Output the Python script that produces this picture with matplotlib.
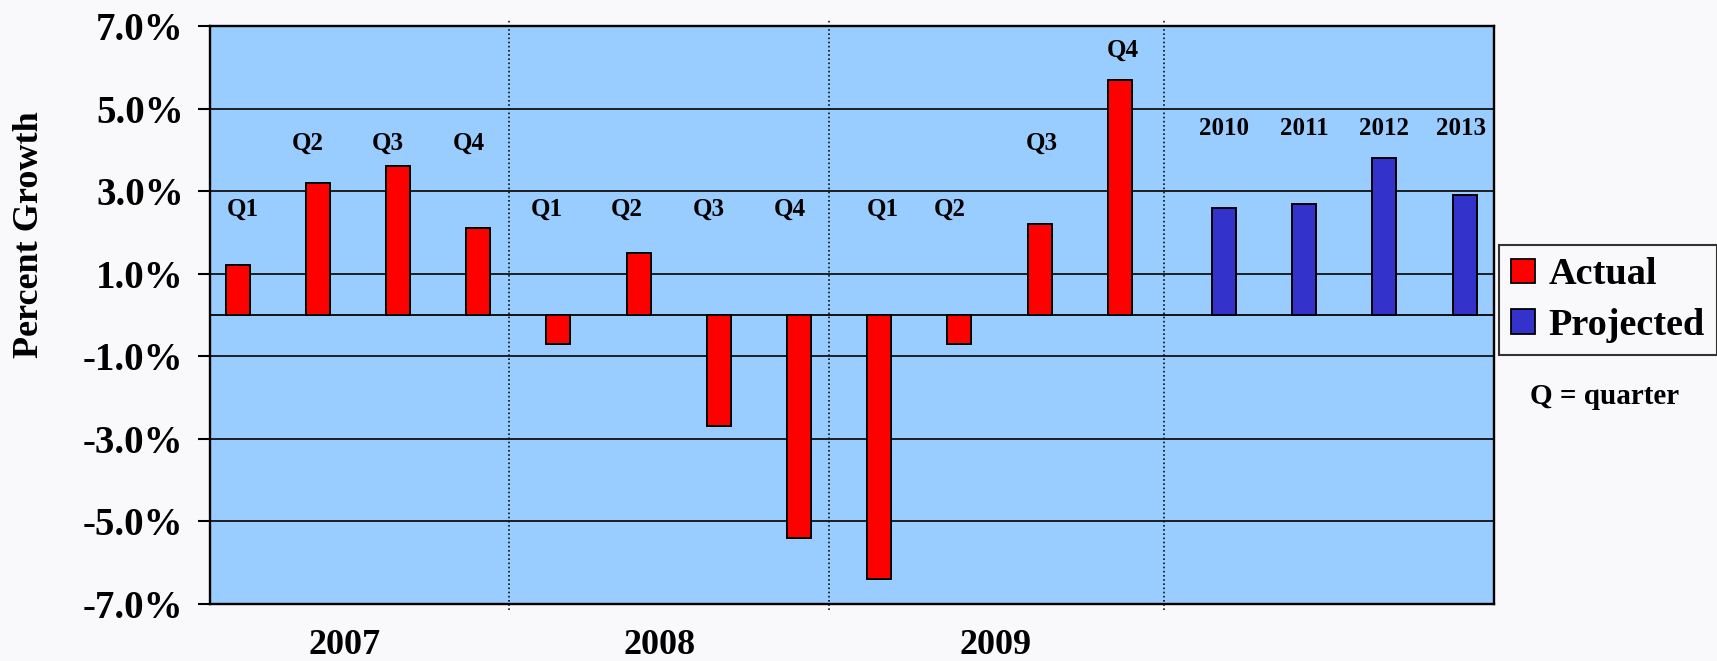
import numpy as np
import matplotlib
matplotlib.use("Agg")
import matplotlib.pyplot as plt
from matplotlib.patches import Patch

plt.rcParams["font.family"] = ["Liberation Serif", "DejaVu Serif"]
plt.rcParams["font.weight"] = "bold"

# quarterly growth (actual) and yearly projections
actual_labels = ["Q1", "Q2", "Q3", "Q4", "Q1", "Q2", "Q3", "Q4", "Q1", "Q2", "Q3", "Q4"]
actual_values = [1.2, 3.2, 3.6, 2.1, -0.7, 1.5, -2.7, -5.4, -6.4, -0.7, 2.2, 5.7]
projected_labels = ["2010", "2011", "2012", "2013"]
projected_values = [2.6, 2.7, 3.8, 2.9]
years = ["2007", "2008", "2009"]

y_ticks = [-7, -5, -3, -1, 1, 3, 5, 7]

# label placement (baseline height and small x nudges, as in the slide)
actual_label_y = [2.4, 4.0, 4.0, 4.0, 2.4, 2.4, 2.4, 2.4, 2.4, 2.4, 4.0, 6.25]
actual_label_dx = [0.07, -0.12, -0.13, -0.12, -0.14, -0.15, -0.12, -0.12, 0.05, -0.12, 0.03, 0.04]
projected_label_y = 4.36
projected_label_dx = [0.0, 0.0, 0.0, -0.05]
year_x = [1.34, 5.26, 9.45]
divider_x = [3.384, 7.374, 11.551]

RED = "#FF0000"
BLUE = "#3333CC"
SKY = "#99CCFF"
BG = "#F9F9FB"

fig = plt.figure(figsize=(17.17, 6.61), dpi=100, facecolor=BG)
ax = fig.add_axes([210 / 1717, 1 - 604 / 661, 1284 / 1717, 578 / 661])
ax.set_facecolor(SKY)

x_act = np.arange(len(actual_values))
x_proj = 12.3 + np.arange(len(projected_values))

ax.bar(x_act, actual_values, width=0.3, color=RED, edgecolor="black", linewidth=1.4, zorder=3)
ax.bar(x_proj, projected_values, width=0.3, color=BLUE, edgecolor="black", linewidth=1.4, zorder=3)

ax.set_xlim(-0.344, 15.666)
ax.set_ylim(-7, 7)
ax.set_yticks(y_ticks)
ax.set_yticklabels([f"{v:.1f}%" for v in y_ticks], fontsize=28, fontweight="bold")
ax.tick_params(axis="y", direction="out", length=9, width=1.5, pad=10)
ax.set_xticks([])

ax.grid(axis="y", color="#111111", linewidth=1.3, zorder=1)
ax.axhline(0, color="#111111", linewidth=1.4, zorder=2)
for s in ax.spines.values():
    s.set_linewidth(1.7)
    s.set_color("black")

for xd in divider_x:
    ax.plot([xd, xd], [-0.011, 1.01], color="#111111", linestyle=(0, (1, 1.5)),
            linewidth=1.2, transform=ax.get_xaxis_transform(), clip_on=False, zorder=2)

for x, lab, ly, dx in zip(x_act, actual_labels, actual_label_y, actual_label_dx):
    ax.text(x + dx, ly, lab, ha="center", va="baseline", fontsize=18, fontweight="bold", zorder=4)
for x, lab, dx in zip(x_proj, projected_labels, projected_label_dx):
    ax.text(x + dx, projected_label_y, lab, ha="center", va="baseline", fontsize=18,
            fontweight="bold", zorder=4)

for x, yr in zip(year_x, years):
    ax.text(x, -0.072, yr, ha="center", va="center", fontsize=26, fontweight="bold",
            transform=ax.get_xaxis_transform())

fig.text(29 / 1717, 1 - 235 / 661, "Percent Growth", rotation=90, ha="center", va="center",
         fontsize=26, fontweight="bold")

handles = [Patch(facecolor=RED, edgecolor="black", linewidth=1.3, label="Actual"),
           Patch(facecolor=BLUE, edgecolor="black", linewidth=1.3, label="Projected")]
leg = fig.legend(handles=handles, loc="center left", bbox_to_anchor=(1499 / 1717, 1 - 300 / 661),
                 fontsize=27.5, frameon=True, fancybox=False, handlelength=0.62, handleheight=0.62,
                 handletextpad=0.35, labelspacing=0.4, borderpad=0.32, borderaxespad=0)
leg.get_frame().set_edgecolor("black")
leg.get_frame().set_linewidth(1.5)
leg.get_frame().set_facecolor(BG)
for t in leg.get_texts():
    t.set_fontweight("bold")

fig.text(1605 / 1717, 1 - 397 / 661, "Q = quarter", ha="center", va="center",
         fontsize=21, fontweight="bold")

fig.savefig("out.png", dpi=100, facecolor=BG)
